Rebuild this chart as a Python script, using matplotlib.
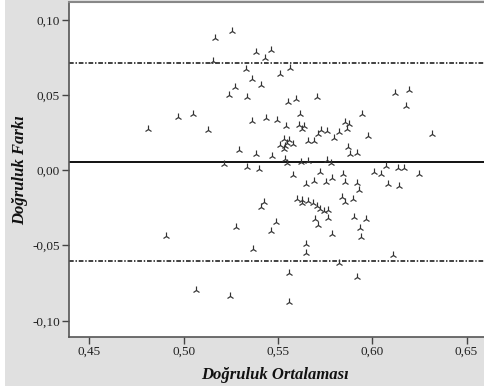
import matplotlib
matplotlib.use("Agg")
import matplotlib.pyplot as plt
from matplotlib.patches import Rectangle

# Mean of the two accuracy measurements (x) and their difference (y)
ortalama = [
    0.5166, 0.5256, 0.5383, 0.5463, 0.5431, 0.5156, 0.5330, 0.5564, 0.5511, 0.5362,
    0.5410, 0.5272, 0.5240, 0.5336, 0.5553, 0.5595, 0.5707, 0.6120, 0.6194, 0.6178,
    0.4970, 0.5050, 0.4811, 0.5617, 0.5945, 0.5362, 0.5436, 0.5495, 0.5542, 0.5611,
    0.5638, 0.5627, 0.5855, 0.5876, 0.5866, 0.5129, 0.5728, 0.5760, 0.5712, 0.5823,
    0.5797, 0.5977, 0.6316, 0.5659, 0.5691, 0.5532, 0.5558, 0.5511, 0.5537, 0.5548,
    0.5580, 0.5532, 0.5871, 0.5882, 0.5919, 0.5293, 0.5383, 0.5468, 0.5537, 0.5214,
    0.5336, 0.5400, 0.5548, 0.5622, 0.5659, 0.5760, 0.5781, 0.6072, 0.6136, 0.6168,
    0.5723, 0.5580, 0.5845, 0.6009, 0.6046, 0.6247, 0.5786, 0.5648, 0.5691, 0.5754,
    0.5855, 0.5919, 0.5929, 0.6083, 0.6141, 0.5601, 0.5627, 0.5627, 0.5659, 0.5686,
    0.5707, 0.5723, 0.5744, 0.5765, 0.5839, 0.5855, 0.5898, 0.5426, 0.5410, 0.5277,
    0.5489, 0.5463, 0.5696, 0.5712, 0.5765, 0.5786, 0.5903, 0.5966, 0.5935, 0.5940,
    0.4906, 0.5367, 0.5648, 0.5648, 0.6109, 0.5823, 0.5558, 0.5065, 0.5246, 0.5558,
    0.5919,
]
fark = [
    0.0879, 0.0926, 0.0786, 0.0799, 0.0746, 0.0726, 0.0673, 0.0680, 0.0640, 0.0607,
    0.0567, 0.0553, 0.0500, 0.0487, 0.0454, 0.0474, 0.0487, 0.0514, 0.0533, 0.0427,
    0.0354, 0.0374, 0.0274, 0.0374, 0.0374, 0.0328, 0.0348, 0.0334, 0.0294, 0.0301,
    0.0294, 0.0274, 0.0321, 0.0308, 0.0274, 0.0268, 0.0268, 0.0261, 0.0241, 0.0254,
    0.0215, 0.0228, 0.0241, 0.0195, 0.0195, 0.0208, 0.0201, 0.0168, 0.0161, 0.0181,
    0.0175, 0.0142, 0.0155, 0.0108, 0.0115, 0.0135, 0.0108, 0.0095, 0.0075, 0.0042,
    0.0022, 0.0009, 0.0049, 0.0055, 0.0062, 0.0068, 0.0049, 0.0029, 0.0015, 0.0015,
    -0.0011, -0.0031, -0.0025, -0.0011, -0.0025, -0.0025, -0.0051, -0.0091, -0.0071, -0.0078,
    -0.0078, -0.0084, -0.0131, -0.0091, -0.0104, -0.0191, -0.0197, -0.0217, -0.0204, -0.0217,
    -0.0237, -0.0257, -0.0270, -0.0264, -0.0177, -0.0211, -0.0191, -0.0210, -0.0244, -0.0377,
    -0.0344, -0.0403, -0.0324, -0.0363, -0.0317, -0.0423, -0.0310, -0.0324, -0.0383, -0.0443,
    -0.0437, -0.0523, -0.0490, -0.0550, -0.0563, -0.0616, -0.0683, -0.0795, -0.0835, -0.0875,
    -0.0709,
]

# Bias line and limits of agreement
ortalama_fark = 0.0055
ust_sinir = 0.0710
alt_sinir = -0.0600

x_ticks = [0.45, 0.50, 0.55, 0.60, 0.65]
x_tick_labels = ["0,45", "0,50", "0,55", "0,60", "0,65"]
y_ticks = [-0.10, -0.05, 0.00, 0.05, 0.10]
y_tick_labels = ["-0,10", "-0,05", "0,00", "0,05", "0,10"]

plt.rcParams["font.family"] = ["Liberation Serif", "DejaVu Serif"]

W, H = 485, 391
fig = plt.figure(figsize=(W / 100, H / 100), dpi=100, facecolor="white")

# light grey chart frame behind the plot area
fig.patches.append(Rectangle((5 / W, 5 / H), 1 - 5 / W, 1 - 5 / H,
                             transform=fig.transFigure, facecolor="#e0e0e0",
                             edgecolor="none", zorder=-5))

ax = fig.add_axes([69 / W, 54 / H, (485 - 69) / W, 335 / H])
ax.set_zorder(1)
ax.set_facecolor("white")

dash_dot = (0, (2.6, 1.0, 0.8, 1.0))
ax.axhline(ust_sinir, color="#333333", lw=1.3, ls=dash_dot, zorder=2)
ax.axhline(alt_sinir, color="#333333", lw=1.3, ls=dash_dot, zorder=2)
ax.axhline(ortalama_fark, color="#111111", lw=1.4, zorder=2)

ax.plot(ortalama, fark, ls="none", marker="2", ms=5.2, mew=0.85,
        color="#333333", zorder=3)

ax.set_xlim(0.4392, 0.6598)
ax.set_ylim(-0.1108, 0.1118)
ax.set_xticks(x_ticks)
ax.set_xticklabels(x_tick_labels)
ax.set_yticks(y_ticks)
ax.set_yticklabels(y_tick_labels)
ax.tick_params(direction="out", length=5, width=1.0, color="#444444",
               labelsize=9.5, labelcolor="#222222", pad=1.5)
for lab in ax.get_xticklabels() + ax.get_yticklabels():
    lab.set_family(["Liberation Serif", "DejaVu Serif"])

for side in ("left", "bottom"):
    ax.spines[side].set_color("#555555")
    ax.spines[side].set_linewidth(1.2)
ax.spines["top"].set_color("#888888")
ax.spines["top"].set_linewidth(1.5)
ax.spines["right"].set_visible(False)

fig.text(275 / W, 1 - 375 / H, "Doğruluk Ortalaması", ha="center", va="center",
         fontsize=12, fontweight="bold", fontstyle="italic", color="#111111")
fig.text(20 / W, 1 - 170 / H, "Doğruluk Farkı", ha="center", va="center",
         rotation=90, fontsize=12, fontweight="bold", fontstyle="italic",
         color="#111111")

fig.savefig("out.png", dpi=100, facecolor="white")
